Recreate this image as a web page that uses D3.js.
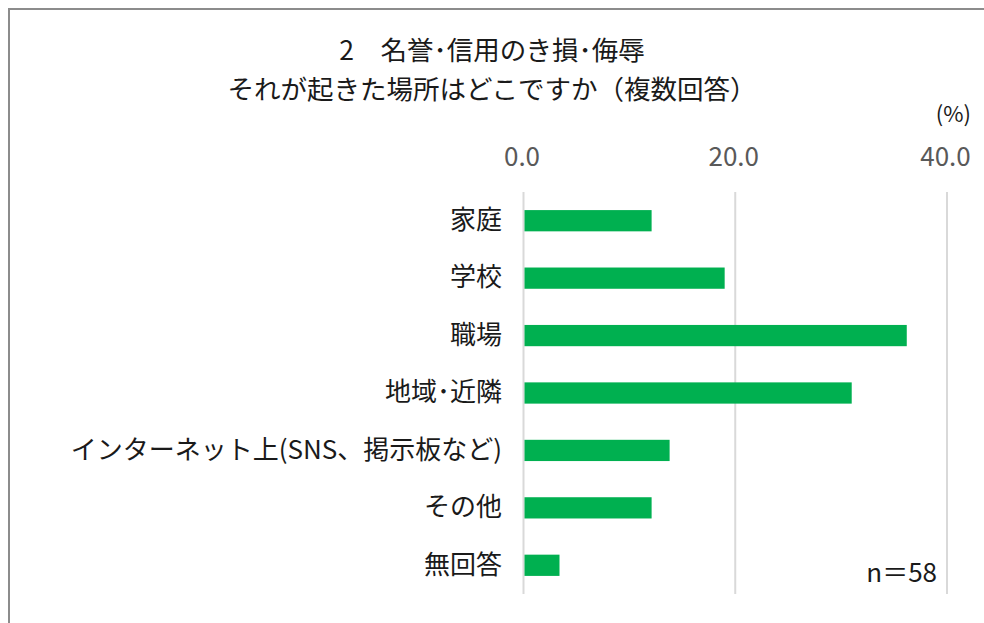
<!DOCTYPE html>
<html>
<head>
<meta charset="utf-8">
<script src="https://cdn.jsdelivr.net/npm/d3@7"></script>
<style>
  body { margin: 0; background: #fff; }
  #chart { width: 984px; height: 623px; }
  text { font-family: "Noto Sans CJK JP", "Noto Sans", sans-serif; }
</style>
</head>
<body>
<div id="chart"></div>
<script>
const titleLines = ["2　名誉･信用のき損･侮辱", "それが起きた場所はどこですか（複数回答）"];
const categories = ["家庭", "学校", "職場", "地域･近隣", "インターネット上(SNS、掲示板など)", "その他", "無回答"];
const values = [12.1, 19.0, 36.2, 31.0, 13.8, 12.1, 3.4];
const tickValues = [0, 20, 40];
const unitLabel = "(%)";
const noteLabel = "n＝58";

const width = 984, height = 623;
const svg = d3.select("#chart").append("svg").attr("width", width).attr("height", height);

// frame (only top and left edges visible in the crop)
svg.append("path")
  .attr("d", `M9,${height} V9 H${width}`)
  .attr("fill", "none")
  .attr("stroke", "#8c8c8c")
  .attr("stroke-width", 2);

svg.selectAll(".title")
  .data(titleLines)
  .enter()
  .append("text")
  .attr("class", "title")
  .attr("x", 492)
  .attr("y", (d, i) => 60 + i * 39)
  .attr("text-anchor", "middle")
  .attr("font-size", 26.5)
  .attr("fill", "#1a1a1a")
  .text(d => d);

const x = d3.scaleLinear().domain([0, 40]).range([523.5, 947]);
const y = d3.scaleBand().domain(categories).range([192, 594]).paddingInner(0.63).paddingOuter(0.315);

// gridlines
svg.append("g")
  .selectAll("line")
  .data(tickValues)
  .enter()
  .append("line")
  .attr("x1", d => x(d)).attr("x2", d => x(d))
  .attr("y1", 192).attr("y2", 594)
  .attr("stroke", "#d9d9d9")
  .attr("stroke-width", 2);

// top axis labels
const axis = svg.append("g")
  .attr("transform", "translate(-2,166)")
  .call(d3.axisTop(x).tickValues(tickValues).tickFormat(d3.format(".1f")).tickSize(0).tickPadding(0));
axis.select(".domain").remove();
axis.selectAll("text")
  .attr("font-size", 26)
  .attr("fill", "#595959")
  .attr("font-family", "'Noto Sans', sans-serif");

svg.append("text")
  .attr("x", 971).attr("y", 122)
  .attr("text-anchor", "end")
  .attr("font-size", 22)
  .attr("fill", "#1a1a1a")
  .text(unitLabel);

// bars
svg.append("g")
  .selectAll("rect")
  .data(values)
  .enter()
  .append("rect")
  .attr("x", x(0) + 1)
  .attr("y", (d, i) => y(categories[i]))
  .attr("width", d => x(d) - x(0) - 1)
  .attr("height", y.bandwidth())
  .attr("fill", "#00b050");

// category labels
const yAxis = svg.append("g")
  .attr("transform", "translate(502,0)")
  .call(d3.axisLeft(y).tickSize(0).tickPadding(0));
yAxis.select(".domain").remove();
yAxis.selectAll("text")
  .attr("font-size", 26)
  .attr("fill", "#1a1a1a");

svg.append("text")
  .attr("x", 937).attr("y", 582)
  .attr("text-anchor", "end")
  .attr("font-size", 26)
  .attr("fill", "#1a1a1a")
  .text(noteLabel);
</script>
</body>
</html>
